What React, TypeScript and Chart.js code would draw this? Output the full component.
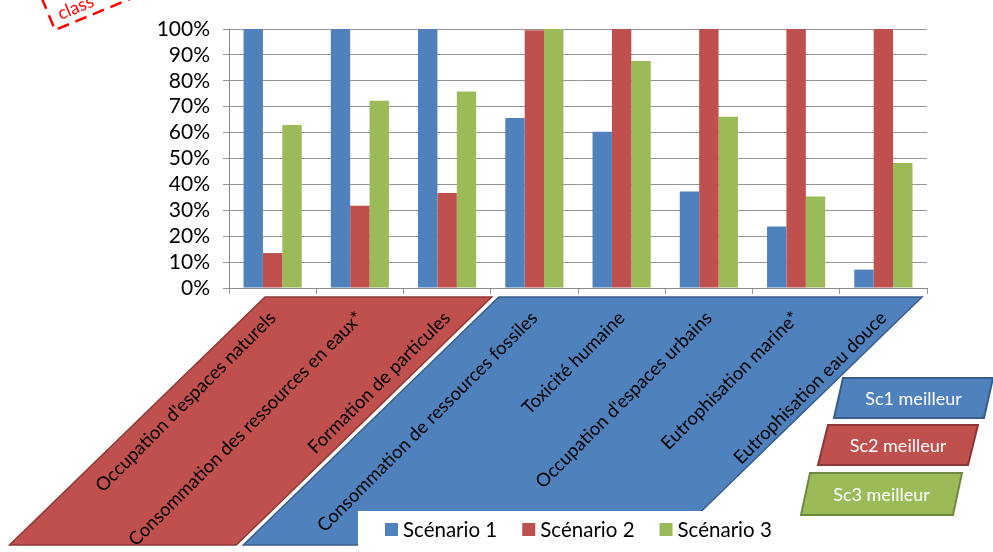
import React, { useEffect, useRef } from 'react';
import { Chart, registerables } from 'chart.js';

Chart.register(...registerables);

// Impact categories on the x axis
const categories = [
  "Occupation d'espaces naturels",
  'Consommation des ressources en eaux*',
  'Formation de particules',
  'Consommation de ressources fossiles',
  'Toxicité humaine',
  "Occupation d'espaces urbains",
  'Eutrophisation marine*',
  'Eutrophisation eau douce',
];

// Relative impact per scenario (% of the worst scenario)
const scenario1 = [100, 100, 100, 65.6, 60.3, 37.3, 23.7, 7.1];
const scenario2 = [13.5, 31.8, 36.7, 99.5, 100, 100, 100, 100];
const scenario3 = [62.9, 72.3, 75.9, 100, 87.6, 66.1, 35.3, 48.3];

const seriesNames = ['Scénario 1', 'Scénario 2', 'Scénario 3'];
const badgeLabels = ['Sc1 meilleur', 'Sc2 meilleur', 'Sc3 meilleur'];
const stampText = 'class';

const FONT = 'Lato, Carlito, "Open Sans", sans-serif';
const BLUE = '#4F81BD';
const RED = '#C0504D';
const GREEN = '#9BBB59';
const BLUE_EDGE = '#385D8A';
const RED_EDGE = '#8C3836';
const GREEN_EDGE = '#71893F';
const GRID = '#979797';
const AXIS = '#8A8A8A';

function poly(ctx: CanvasRenderingContext2D, pts: number[][], fill: string, stroke: string, lw: number) {
  ctx.beginPath();
  ctx.moveTo(pts[0][0], pts[0][1]);
  for (let i = 1; i < pts.length; i++) ctx.lineTo(pts[i][0], pts[i][1]);
  ctx.closePath();
  ctx.fillStyle = fill;
  ctx.fill();
  ctx.strokeStyle = stroke;
  ctx.lineWidth = lw;
  ctx.stroke();
}

// Slanted bands grouping the categories under the x axis
const bandsPlugin = {
  id: 'bands',
  beforeDraw(chart: any) {
    const { ctx, chartArea } = chart;
    const x = chart.scales.x;
    const w = x.getPixelForValue(1) - x.getPixelForValue(0);
    const left = (i: number) => x.getPixelForValue(i) - w / 2;
    const top = chartArea.bottom + 9;
    const bottom = 545;
    const shift = (bottom - top) * 1.03;
    ctx.save();
    ctx.lineJoin = 'miter';
    const r0 = left(0) + 36;
    const r1 = left(3) + 1;
    poly(ctx, [[r0, top], [r1, top], [r1 - shift, bottom], [r0 - shift, bottom]], RED, RED_EDGE, 1.5);
    const b0 = left(3) + 8;
    const b1 = left(8) - 5;
    poly(ctx, [[b0, top], [b1, top], [b1 - shift, bottom], [b0 - shift, bottom]], BLUE, BLUE_EDGE, 1.5);
    ctx.restore();
  },
};

// Legend, "meilleur" badges and the corner stamp
const overlayPlugin = {
  id: 'overlay',
  afterDraw(chart: any) {
    const { ctx } = chart;
    ctx.save();

    // legend panel
    ctx.fillStyle = '#FFFFFF';
    ctx.fillRect(358, 511, 430, 41);
    ctx.font = `20.5px ${FONT}`;
    ctx.textBaseline = 'middle';
    ctx.textAlign = 'left';
    let lx = 385;
    const ly = 529.5;
    chart.data.datasets.forEach((ds: any) => {
      ctx.fillStyle = ds.backgroundColor;
      ctx.fillRect(lx, ly - 6.5, 13, 13);
      ctx.fillStyle = '#000';
      ctx.fillText(ds.label, lx + 18, ly + 1);
      lx += 18 + ctx.measureText(ds.label).width + 25;
    });

    // badges
    const badges = [
      { pts: [[843, 378], [993, 378], [984, 418], [834, 418]], fill: BLUE, edge: BLUE_EDGE },
      { pts: [[828, 425], [978, 425], [968, 465], [818, 465]], fill: RED, edge: RED_EDGE },
      { pts: [[810, 473], [962, 473], [953, 515], [801, 515]], fill: GREEN, edge: GREEN_EDGE },
    ];
    badges.forEach((b, i) => {
      poly(ctx, b.pts, b.fill, b.edge, 2);
      const cx = b.pts.reduce((s, p) => s + p[0], 0) / 4;
      const cy = (b.pts[0][1] + b.pts[2][1]) / 2;
      ctx.fillStyle = '#FFFFFF';
      ctx.font = `18px ${FONT}`;
      ctx.textAlign = 'center';
      ctx.textBaseline = 'middle';
      ctx.fillText(badgeLabels[i], cx, cy + 1);
    });

    // rotated dashed stamp in the corner
    ctx.translate(55, 30);
    ctx.rotate((-22.5 * Math.PI) / 180);
    ctx.strokeStyle = '#FF0000';
    ctx.lineWidth = 2.5;
    ctx.setLineDash([12, 7]);
    ctx.strokeRect(0, -50, 220, 50);
    ctx.setLineDash([]);
    ctx.fillStyle = '#FF0000';
    ctx.font = `18px ${FONT}`;
    ctx.textAlign = 'left';
    ctx.textBaseline = 'alphabetic';
    ctx.fillText(stampText, 9, -7);

    ctx.restore();
  },
};

export default function App() {
  const canvasRef = useRef<HTMLCanvasElement | null>(null);

  useEffect(() => {
    let chart: Chart | null = null;
    let cancelled = false;
    const build = () => {
      if (cancelled || !canvasRef.current) return;
      chart = new Chart(canvasRef.current, {
        type: 'bar',
        data: {
          labels: categories,
          datasets: [
            { label: seriesNames[0], data: scenario1, backgroundColor: BLUE },
            { label: seriesNames[1], data: scenario2, backgroundColor: RED },
            { label: seriesNames[2], data: scenario3, backgroundColor: GREEN },
          ],
        },
        options: {
          responsive: false,
          animation: false,
          layout: { padding: { top: 29, right: 66, left: 0, bottom: 0 } },
          datasets: { bar: { categoryPercentage: 3 / 4.5, barPercentage: 1 } },
          plugins: { legend: { display: false }, tooltip: { enabled: false } },
          scales: {
            x: {
              grid: { drawOnChartArea: false, drawTicks: true, tickLength: 6, color: GRID, offset: true },
              border: { color: AXIS },
              ticks: {
                autoSkip: false,
                minRotation: 45,
                maxRotation: 45,
                color: '#000',
                font: { family: FONT, size: 18.5 },
                padding: 13,
              },
              afterFit: (s: any) => {
                s.height = 264;
              },
            },
            y: {
              min: 0,
              max: 100,
              ticks: {
                stepSize: 10,
                autoSkip: false,
                callback: (v: any) => `${v}%`,
                color: '#000',
                font: { family: FONT, size: 21, lineHeight: 1 },
                padding: 13,
              },
              grid: { color: GRID, tickLength: 6 },
              border: { color: AXIS },
              afterFit: (s: any) => {
                s.width = 229;
              },
            },
          },
        },
        plugins: [bandsPlugin, overlayPlugin],
      });
    };
    const fonts: any = (document as any).fonts;
    if (fonts && fonts.load) {
      Promise.all([fonts.load(`20px Lato`), fonts.load(`17px Lato`)]).then(build, build);
    } else {
      build();
    }
    return () => {
      cancelled = true;
      if (chart) chart.destroy();
    };
  }, []);

  return (
    <div style={{ position: 'absolute', left: 0, top: 0, width: 993, height: 552, background: '#fff' }}>
      <canvas ref={canvasRef} width={993} height={552} style={{ display: 'block' }} />
    </div>
  );
}
